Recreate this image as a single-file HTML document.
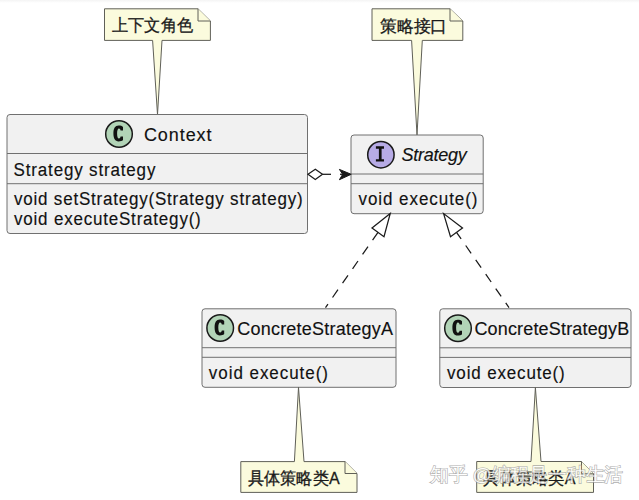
<!DOCTYPE html>
<html><head><meta charset="utf-8">
<style>
html,body{margin:0;padding:0;background:#fff;width:639px;height:500px;overflow:hidden}
svg{display:block;font-family:"Liberation Sans",sans-serif}
.box{fill:#F1F1F1;stroke:#707070;stroke-width:1}
.sep{stroke:#707070;stroke-width:1}
.note{fill:#FBFBDD;stroke:#606058;stroke-width:1}
.t{font-size:17px;fill:#111;stroke:#111;stroke-width:0.15}
.h{font-size:18px}
.cn{font-size:16.8px;fill:#1a1a1a;stroke:#1a1a1a;stroke-width:0.3}
.ln{stroke:#1a1a1a;stroke-width:1.25;fill:none}
</style></head>
<body>
<svg width="639" height="500" viewBox="0 0 639 500">
<defs>
<linearGradient id="topg" x1="0" y1="0" x2="0" y2="1">
<stop offset="0" stop-color="#f4f4f4"/><stop offset="1" stop-color="#ffffff"/>
</linearGradient>
</defs>
<rect x="0" y="0" width="639" height="3" fill="url(#topg)"/>

<!-- Note 1 -->
<path class="note" d="M104.5,8.8 L198,8.8 L210.4,21 L210.4,40.4 L162,40.4 L157.5,114.5 L152.6,40.4 L104.5,40.4 Z"/>
<path class="note" d="M198,8.8 L198,21 L210.4,21"/>
<text class="cn" x="112" y="31.3" textLength="81" lengthAdjust="spacingAndGlyphs">上下文角色</text>

<!-- Note 2 -->
<path class="note" d="M372,8.8 L450,8.8 L462.8,21 L462.8,40.4 L422.3,40.4 L417,135 L411.6,40.4 L372,40.4 Z"/>
<path class="note" d="M450,8.8 L450,21 L462.8,21"/>
<text class="cn" x="379.8" y="31.6" textLength="67.6" lengthAdjust="spacingAndGlyphs">策略接口</text>

<!-- Context class -->
<rect class="box" x="7" y="114.5" width="300.5" height="119" rx="3"/>
<line class="sep" x1="7" y1="153.5" x2="307.5" y2="153.5"/>
<line class="sep" x1="7" y1="183.7" x2="307.5" y2="183.7"/>
<circle cx="119" cy="134" r="13.3" fill="#B2D4B7" stroke="#1a1a1a" stroke-width="1.5"/>
<path transform="translate(119,134)" fill="#111" d="M4,-3.6 L4,-6.9 C3,-8 1.6,-8.4 -0.4,-8.4 C-3.9,-8.4 -5.6,-5.4 -5.6,-0.5 C-5.6,4.4 -3.9,7.4 -0.4,7.4 C1.6,7.4 3,7 4,6 L4,2.6 L1.6,2.6 C1.4,3.8 0.8,4.6 0,4.6 C-1.3,4.6 -1.9,2.6 -1.9,-0.5 C-1.9,-3.6 -1.3,-5.6 0,-5.6 C0.8,-5.6 1.4,-4.8 1.6,-3.6 Z"/>
<text class="t h" x="0" y="0" transform="matrix(1,0,0,1.05,143.9,141)" textLength="67.6" lengthAdjust="spacing">Context</text>
<text class="t" x="0" y="0" transform="matrix(1,0,0,1.05,13.6,175.5)" textLength="141.8" lengthAdjust="spacing">Strategy strategy</text>
<text class="t" x="0" y="0" transform="matrix(1,0,0,1.05,14,205.3)" textLength="288.6" lengthAdjust="spacing">void setStrategy(Strategy strategy)</text>
<text class="t" x="0" y="0" transform="matrix(1,0,0,1.05,14,225.4)" textLength="186.8" lengthAdjust="spacing">void executeStrategy()</text>

<!-- Strategy interface -->
<rect class="box" x="351" y="135" width="132.2" height="78.7" rx="3"/>
<line class="sep" x1="351" y1="174" x2="483.2" y2="174"/>
<line class="sep" x1="351" y1="183.7" x2="483.2" y2="183.7"/>
<circle cx="380.9" cy="154.7" r="13.2" fill="#B7ABE6" stroke="#1a1a1a" stroke-width="1.5"/>
<path transform="translate(380.9,154.7)" fill="#111" d="M-5,-8.4 L3.1,-8.4 L3.1,-6 L0.7,-6 L0.7,4.5 L3.1,4.5 L3.1,6.9 L-5,6.9 L-5,4.5 L-2,4.5 L-2,-6 L-5,-6 Z"/>
<text class="t h" x="0" y="0" transform="matrix(1,0,0,1.05,401.5,161.4)" font-style="italic" textLength="65.3" lengthAdjust="spacing">Strategy</text>
<text class="t" x="0" y="0" transform="matrix(1,0,0,1.05,358.5,204.8)" textLength="119" lengthAdjust="spacing">void execute()</text>

<!-- ConcreteStrategyA -->
<rect class="box" x="202" y="308.8" width="194" height="78.5" rx="3"/>
<line class="sep" x1="202" y1="347.7" x2="396" y2="347.7"/>
<line class="sep" x1="202" y1="357.3" x2="396" y2="357.3"/>
<circle cx="220.2" cy="328" r="13.3" fill="#B2D4B7" stroke="#1a1a1a" stroke-width="1.5"/>
<path transform="translate(220.2,328)" fill="#111" d="M4,-3.6 L4,-6.9 C3,-8 1.6,-8.4 -0.4,-8.4 C-3.9,-8.4 -5.6,-5.4 -5.6,-0.5 C-5.6,4.4 -3.9,7.4 -0.4,7.4 C1.6,7.4 3,7 4,6 L4,2.6 L1.6,2.6 C1.4,3.8 0.8,4.6 0,4.6 C-1.3,4.6 -1.9,2.6 -1.9,-0.5 C-1.9,-3.6 -1.3,-5.6 0,-5.6 C0.8,-5.6 1.4,-4.8 1.6,-3.6 Z"/>
<text class="t h" x="0" y="0" transform="matrix(1,0,0,1.05,237.2,334.8)" textLength="155.8" lengthAdjust="spacing">ConcreteStrategyA</text>
<text class="t" x="0" y="0" transform="matrix(1,0,0,1.05,208.8,379.3)" textLength="119.2" lengthAdjust="spacing">void execute()</text>

<!-- ConcreteStrategyB -->
<rect class="box" x="439.8" y="308.8" width="191.2" height="78.7" rx="3"/>
<line class="sep" x1="439.8" y1="347.8" x2="631" y2="347.8"/>
<line class="sep" x1="439.8" y1="357.4" x2="631" y2="357.4"/>
<circle cx="458" cy="328.2" r="13.3" fill="#B2D4B7" stroke="#1a1a1a" stroke-width="1.5"/>
<path transform="translate(458,328.2)" fill="#111" d="M4,-3.6 L4,-6.9 C3,-8 1.6,-8.4 -0.4,-8.4 C-3.9,-8.4 -5.6,-5.4 -5.6,-0.5 C-5.6,4.4 -3.9,7.4 -0.4,7.4 C1.6,7.4 3,7 4,6 L4,2.6 L1.6,2.6 C1.4,3.8 0.8,4.6 0,4.6 C-1.3,4.6 -1.9,2.6 -1.9,-0.5 C-1.9,-3.6 -1.3,-5.6 0,-5.6 C0.8,-5.6 1.4,-4.8 1.6,-3.6 Z"/>
<text class="t h" x="0" y="0" transform="matrix(1,0,0,1.05,474.4,335.2)" textLength="154.8" lengthAdjust="spacing">ConcreteStrategyB</text>
<text class="t" x="0" y="0" transform="matrix(1,0,0,1.05,447,379.4)" textLength="117.8" lengthAdjust="spacing">void execute()</text>

<!-- Aggregation -->
<path d="M308,174.3 L315.3,169.2 L322.5,174.3 L315.3,179.4 Z" fill="#fff" stroke="#1a1a1a" stroke-width="1.25"/>
<line class="ln" x1="322.5" y1="174.3" x2="331" y2="174.3"/>
<line class="ln" x1="340" y1="174.3" x2="350" y2="174.3"/>
<path d="M339.4,169.4 L351.2,174.3 L339.4,179.7 L342.7,174.3 Z" fill="#1a1a1a" stroke="#1a1a1a" stroke-width="1"/>

<!-- Generalization arrows -->
<line class="ln" x1="378" y1="232.3" x2="325.5" y2="307.6" stroke-dasharray="9.5,8"/>
<path d="M390.2,213.6 L372,228 L384,236.7 Z" fill="#fff" stroke="#1a1a1a" stroke-width="1.25"/>
<line class="ln" x1="456.5" y1="232.3" x2="509" y2="307.6" stroke-dasharray="9.5,8" stroke-dashoffset="1.4"/>
<path d="M443.6,213.6 L450.5,236.7 L462.5,228 Z" fill="#fff" stroke="#1a1a1a" stroke-width="1.25"/>

<!-- Note 3 -->
<path class="note" d="M240.8,461.6 L294.4,461.6 L298.5,387.3 L304,461.6 L345,461.6 L357,473.5 L357,492.4 L240.8,492.4 Z"/>
<path class="note" d="M345,461.6 L345,473.5 L357,473.5"/>
<text class="cn" x="247.6" y="483.7" textLength="92" lengthAdjust="spacingAndGlyphs">具体策略类A</text>

<!-- Note 4 -->
<path class="note" d="M476.7,461.5 L531,461.5 L535.4,387.5 L541,461.5 L581.5,461.5 L593.5,473.8 L593.5,492.4 L476.7,492.4 Z"/>
<path class="note" d="M581.5,461.5 L581.5,473.8 L593.5,473.8"/>
<text class="cn" x="483.4" y="483.7" textLength="92" lengthAdjust="spacingAndGlyphs">具体策略类A</text>

<!-- Watermark -->
<text x="429.8" y="481" font-size="19" fill="#fff" stroke="#9a9a9a" stroke-width="1.2" paint-order="stroke" opacity="0.8" textLength="193.5" lengthAdjust="spacingAndGlyphs">知乎 @编程是一种生活</text>
</svg>
</body></html>
